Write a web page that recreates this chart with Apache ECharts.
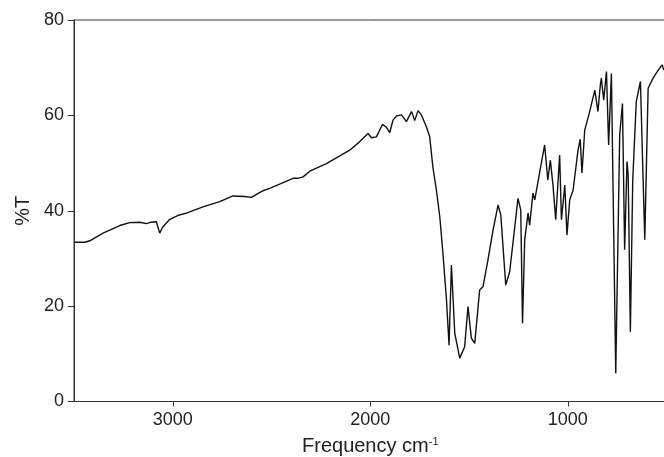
<!DOCTYPE html>
<html>
<head>
<meta charset="utf-8">
<script src="https://cdn.jsdelivr.net/npm/echarts@6/dist/echarts.min.js"></script>
<style>html,body{margin:0;padding:0;background:#fff}#c{width:664px;height:457px}</style>
</head>
<body>
<div id="c"></div>
<script>
const wavenumbers = [3500,3445,3420,3353,3268,3218,3167,3133,3111,3083,3066,3051,3015,2975,2931,2847,2762,2695,2635,2602,2543,2509,2391,2367,2340,2306,2222,2104,2053,2011,1994,1969,1938,1918,1901,1885,1867,1842,1817,1791,1775,1758,1741,1733,1716,1699,1683,1665,1648,1632,1614,1601,1589,1572,1547,1522,1505,1488,1471,1446,1429,1404,1378,1353,1339,1314,1294,1268,1252,1238,1229,1218,1201,1193,1176,1167,1142,1117,1101,1088,1074,1061,1041,1032,1015,1004,990,973,948,937,928,914,889,863,847,835,830,818,804,793,779,757,737,723,712,700,694,683,671,653,632,610,593,568,542,522,514];
const transmittance = [33.4,33.4,33.7,35.3,36.9,37.5,37.6,37.3,37.6,37.7,35.3,36.6,38.2,39.0,39.5,40.8,41.9,43.1,43.0,42.8,44.2,44.7,46.8,46.8,47.1,48.3,49.9,52.7,54.5,56.2,55.3,55.5,58.1,57.5,56.4,59.0,59.9,60.1,58.7,60.8,58.9,61.0,60.1,60.4,57.6,55.5,49.2,44.3,38.8,31.1,21.3,11.8,28.6,14.3,9.1,11.5,19.9,13.3,12.2,23.4,24.1,29.7,36.0,41.2,39.1,24.4,27.2,36.7,42.6,40.2,16.4,33.9,39.5,37.0,43.7,42.3,48.1,53.8,46.4,50.6,45.0,38.1,51.7,38.1,45.4,34.9,42.3,44.3,52.7,55.0,47.9,56.9,60.8,65.3,60.8,66.4,67.8,63.2,69.2,53.8,68.8,5.9,55.9,62.5,31.8,50.3,47.5,14.6,46.4,62.9,67.1,33.9,65.7,67.8,69.5,70.6,69.5];
const xTicks = [1000, 2000, 3000];
const yTicks = [0, 20, 40, 60, 80];

const points = wavenumbers.map((w, i) => [w, transmittance[i]]);
const axisColor = '#333';
const font = '"Liberation Sans", Arial, Helvetica, sans-serif';

const chart = echarts.init(document.getElementById('c'), null, {renderer: 'canvas'});
chart.setOption({
  animation: false,
  backgroundColor: '#fff',
  grid: {left: 74, top: 20, width: 592.5, height: 381.5, show: true, borderColor: axisColor, borderWidth: 1, containLabel: false, outerBoundsMode: 'none'},
  xAxis: {
    type: 'value', inverse: true, min: 500, max: 3500,
    name: 'Frequency cm{sup|-1}', nameLocation: 'middle', nameGap: 35,
    nameTextStyle: {fontFamily: font, fontSize: 20, color: '#222', rich: {sup: {fontFamily: font, fontSize: 11, color: '#222', verticalAlign: 'top', padding: [0,0,9,0]}}},
    axisLine: {show: true, lineStyle: {color: axisColor, width: 1}},
    axisTick: {show: true, length: 5, inside: false, customValues: xTicks, lineStyle: {color: axisColor}},
    axisLabel: {customValues: xTicks, fontFamily: font, fontSize: 18, color: '#222', margin: 10, formatter: v => String(v)},
    splitLine: {show: false}
  },
  yAxis: {
    type: 'value', min: 0, max: 80, interval: 20,
    name: '%T', nameLocation: 'middle', nameGap: 41,
    nameTextStyle: {fontFamily: font, fontSize: 20, color: '#222'},
    axisLine: {show: true, lineStyle: {color: axisColor, width: 1}},
    axisTick: {show: true, length: 6, inside: false, lineStyle: {color: axisColor}},
    axisLabel: {fontFamily: font, fontSize: 18, color: '#222', margin: 10,
      formatter: v => yTicks.includes(v) ? String(v) : ''},
    splitLine: {show: false}
  },
  series: [{
    type: 'line', data: points, showSymbol: false, symbol: 'none',
    lineStyle: {color: '#111', width: 1.4}, clip: true
  }]
});
</script>
</body>
</html>
